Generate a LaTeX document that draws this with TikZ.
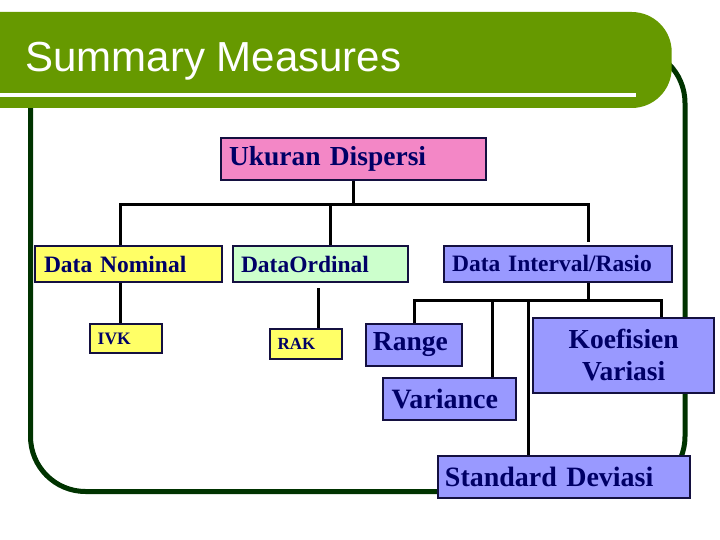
\documentclass[tikz,border=0pt]{standalone}
\usepackage{fontspec}
\setmainfont{Liberation Serif}
\newfontfamily\titlefont{Liberation Sans}
\usepackage{xcolor}
\definecolor{colBar}{HTML}{669900}
\definecolor{colFrame}{HTML}{003300}
\definecolor{colNavy}{HTML}{000066}
\definecolor{colLine}{HTML}{141040}
\definecolor{colPink}{HTML}{F387C6}
\definecolor{colYellow}{HTML}{FFFF66}
\definecolor{colMint}{HTML}{CCFFCC}
\definecolor{colLilac}{HTML}{9999FF}
\newcommand{\pxfont}[1]{\fontsize{#1}{#1}\selectfont}
\usepackage{tikz}
\usetikzlibrary{positioning, calc}

\begin{document}
\begin{tikzpicture}[x=1pt, y=-1pt,
		box/.style={draw=colLine, line width=1.8pt, inner ysep=0pt, align=left, text=colNavy},
		conn/.style={line width=3pt, black}]
	\useasboundingbox (0,0) rectangle (720,540);
	% frame behind everything
	\draw[colFrame, line width=5pt, rounded corners=55] (30.5,48) rectangle (685,491.5);
	% title bar
	\fill[colBar, rounded corners=40] (-60,12) rectangle (671.7,108);
	\draw[white, line width=4pt] (0,95.3) -- (636,95.3);
	\node[anchor=base west, text=white, font=\titlefont\pxfont{42}] (title) at (22,72) {Summary Measures};

	% boxes
	\node[box, fill=colPink, text width=249pt, inner xsep=8pt, minimum height=42pt, font=\bfseries\pxfont{27.5}] (disp) at (353.5,159) {Ukuran Dispersi};
	\node[box, fill=colYellow, text width=169pt, inner xsep=9pt, minimum height=36pt, font=\bfseries\pxfont{23.5}] (nom) at (128.5,264) {Data Nominal};
	\node[box, fill=colMint, text width=159pt, inner xsep=8pt, minimum height=36pt, font=\bfseries\pxfont{23.5}] (ord) at (320.5,264) {DataOrdinal};
	\node[box, fill=colLilac, text width=211.7pt, inner xsep=8pt, minimum height=35.7pt, font=\bfseries\pxfont{23.5}] (intv) at (557.9,263.9) {Data Interval/Rasio};
	\node[box, fill=colYellow, text width=56.6pt, inner xsep=7.7pt, minimum height=29.3pt, font=\bfseries\pxfont{17.5}] (ivk) at (126,338.7) {IVK};
	\node[box, fill=colYellow, text width=56.3pt, inner xsep=7.7pt, minimum height=30pt, font=\bfseries\pxfont{17}] (rak) at (305.8,344.3) {RAK};
	\node[box, fill=colLilac, text width=81.7pt, inner xsep=7pt, minimum height=42pt, font=\bfseries\pxfont{27.5}] (rng) at (413.8,345) {Range};
	\node[box, fill=colLilac, text width=115.6pt, inner xsep=8.4pt, minimum height=42.3pt, font=\bfseries\pxfont{28}] (var) at (449.5,398.8) {Variance};
	\node[box, fill=colLilac, text width=170pt, inner xsep=5.35pt, minimum height=75pt, align=center, font=\bfseries\fontsize{27.5}{31.7}\selectfont] (koef) at (623.7,355.2) {Koefisien\\Variasi};
	\node[box, fill=colLilac, text width=237.7pt, inner xsep=7.3pt, minimum height=42pt, font=\bfseries\pxfont{28}] (std) at (563.8,476.7) {Standard Deviasi};

	% upper tree
	\coordinate (tl) at (120.7,204.3);
	\coordinate (tm) at (330,204.3);
	\coordinate (tr) at (588.5,204.3);
	\coordinate (trend) at (588.5,241.7);
	\coordinate (ro) at (318.3,288);
	% lower tree
	\coordinate (bl) at (414.3,300);
	\coordinate (bv) at (492.7,300);
	\coordinate (bs) at (528.3,300);
	\coordinate (bm) at (588.5,300);
	\coordinate (br) at (661,300);

	\draw[conn] (disp.south) -- (disp.south |- tl);
	\draw[conn] (tl |- nom.north) -- (tl) -- (tr) -- (trend);
	\draw[conn] (tm) -- (tm |- ord.north);
	\draw[conn] (tl |- nom.south) -- (tl |- ivk.north);
	\draw[conn] (ro) -- (ro |- rak.north);
	\draw[conn] (bm |- intv.south) -- (bm);
	\draw[conn] (bl |- rng.north) -- (bl) -- (br) -- (br |- koef.north);
	\draw[conn] (bv) -- (bv |- var.north);
	\draw[conn] (bs) -- (bs |- std.north);
\end{tikzpicture}
\end{document}
